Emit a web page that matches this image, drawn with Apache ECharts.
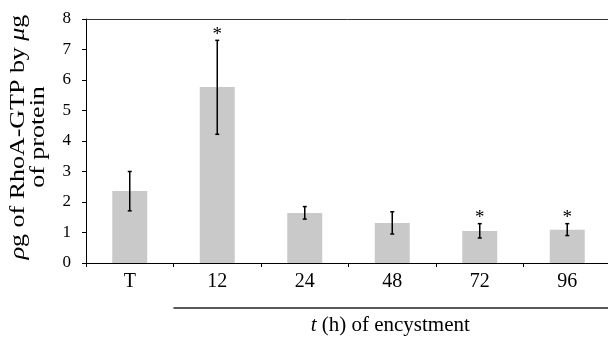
<!DOCTYPE html>
<html><head><meta charset="utf-8">
<script src="https://cdn.jsdelivr.net/npm/echarts@6/dist/echarts.min.js"></script>
<style>html,body{margin:0;padding:0;background:#fff}#c{width:608px;height:339px}</style>
</head><body><div id="c"></div>
<script>
var categories = ['T', '12', '24', '48', '72', '96'];
var values = [2.36, 5.77, 1.64, 1.31, 1.05, 1.09];
var errLow = [1.71, 4.22, 1.44, 0.95, 0.82, 0.90];
var errHigh = [3.00, 7.30, 1.85, 1.68, 1.29, 1.29];
var signif = ['', '*', '', '', '*', '*'];
var yTicks = [0, 1, 2, 3, 4, 5, 6, 7, 8];

var serif = '"Liberation Serif", "Times New Roman", serif';
var chart = echarts.init(document.getElementById('c'));
var errData = categories.map(function (c, i) { return [i, errLow[i], errHigh[i], signif[i]]; });

chart.setOption({
  animation: false,
  grid: { left: 86, top: 19, width: 525, height: 244, containLabel: false, outerBoundsMode: 'none' },
  xAxis: [{
    type: 'category', data: categories, position: 'bottom',
    axisLine: { lineStyle: { color: '#000', width: 1 } },
    axisTick: { show: true, length: 4, lineStyle: { color: '#000' } },
    axisLabel: { fontFamily: serif, fontSize: 20, color: '#000', margin: 9 }
  }, {
    type: 'category', data: categories, position: 'top',
    axisLine: { lineStyle: { color: '#333', width: 1 } },
    axisTick: { show: false }, axisLabel: { show: false }
  }],
  yAxis: {
    type: 'value', min: yTicks[0], max: yTicks[yTicks.length - 1], interval: 1,
    splitLine: { show: false },
    axisLine: { show: true, lineStyle: { color: '#000', width: 1 } },
    axisTick: { show: true, length: 4, lineStyle: { color: '#000' } },
    axisLabel: { fontFamily: serif, fontSize: 17, color: '#000', margin: 15 }
  },
  series: [{
    type: 'bar', data: values, barWidth: 35,
    itemStyle: { color: '#c9c9c9' }
  }, {
    type: 'custom', data: errData, z: 10,
    renderItem: function (params, api) {
      var x = api.coord([api.value(0), 0])[0];
      var lo = api.coord([api.value(0), api.value(1)])[1];
      var hi = api.coord([api.value(0), api.value(2)])[1];
      var cap = 2;
      var st = { stroke: '#000', lineWidth: 1.5 };
      var children = [
        { type: 'line', shape: { x1: x, y1: hi, x2: x, y2: lo }, style: st },
        { type: 'line', shape: { x1: x - cap, y1: hi, x2: x + cap, y2: hi }, style: st },
        { type: 'line', shape: { x1: x - cap, y1: lo, x2: x + cap, y2: lo }, style: st }
      ];
      var s = signif[params.dataIndex];
      if (s) {
        children.push({ type: 'text', style: { text: s, x: x, y: hi + 4, align: 'center', verticalAlign: 'bottom', font: '19px ' + serif, fill: '#000' } });
      }
      return { type: 'group', children: children };
    }
  }]
});

function drawExtras() {
  var c1 = chart.convertToPixel({ xAxisIndex: 0 }, categories[1]);
  var c2 = chart.convertToPixel({ xAxisIndex: 0 }, categories[2]);
  var step = c2 - c1;
  var x0 = c1 - step / 2;
  var x1 = chart.convertToPixel({ xAxisIndex: 0 }, categories[categories.length - 1]) + step / 2;
  var y0 = chart.convertToPixel({ yAxisIndex: 0 }, yTicks[0]);
  var yTop = chart.convertToPixel({ yAxisIndex: 0 }, yTicks[yTicks.length - 1]);
  var ly = y0 + 45;
  chart.setOption({
    graphic: [
      { type: 'line', shape: { x1: x0, y1: ly, x2: x1, y2: ly }, style: { stroke: '#222', lineWidth: 1.5 } },
      { type: 'text', x: (x0 + x1) / 2 - 2, y: ly + 17,
        style: { text: '{i|t} (h) of encystment', align: 'center', verticalAlign: 'middle',
          font: '21px ' + serif, fill: '#000',
          rich: { i: { fontStyle: 'italic', fontFamily: serif, fontSize: 21, fill: '#000' } } } },
      { type: 'text', x: 28, y: (y0 + yTop) / 2 - 4, rotation: Math.PI / 2, scaleX: 1.18,
        style: { text: '{i|ρ}g of RhoA-GTP by {i|μ}g\nof protein', align: 'center', verticalAlign: 'middle',
          font: '22px ' + serif, fill: '#000', lineHeight: 20,
          rich: { i: { fontStyle: 'italic', fontFamily: serif, fontSize: 22, fill: '#000', lineHeight: 20 } } } }
    ]
  });
}
drawExtras();
</script></body></html>
